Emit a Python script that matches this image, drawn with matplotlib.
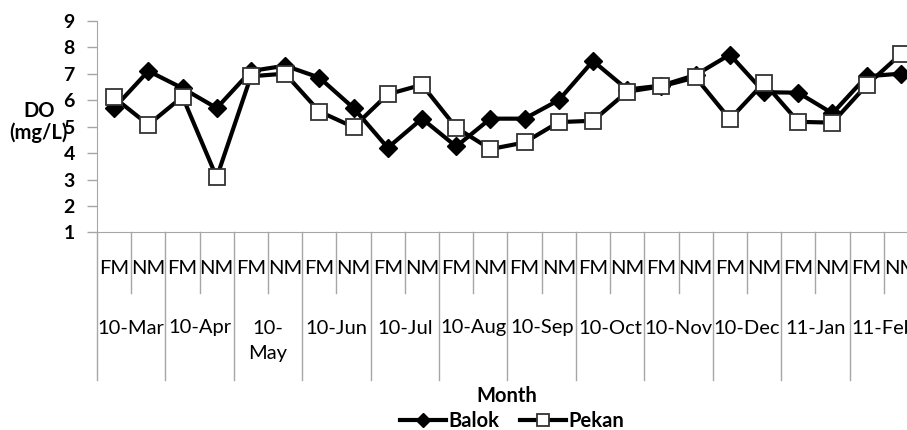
import matplotlib
matplotlib.use("Agg")
import matplotlib.pyplot as plt
from matplotlib.transforms import blended_transform_factory
from matplotlib.lines import Line2D

# ---- data ----
sub_labels = ["FM", "NM"] * 12
month_labels = ["10-Mar", "10-Apr", "10-\nMay", "10-Jun", "10-Jul", "10-Aug",
                "10-Sep", "10-Oct", "10-Nov", "10-Dec", "11-Jan", "11-Feb"]
balok = [5.7, 7.1, 6.45, 5.7, 7.1, 7.3, 6.85, 5.7, 4.2, 5.3, 4.25, 5.3,
         5.3, 6.0, 7.48, 6.4, 6.55, 6.95, 7.72, 6.3, 6.28, 5.5, 6.9, 7.0]
pekan = [6.1, 5.07, 6.13, 3.08, 6.9, 7.0, 5.57, 4.98, 6.22, 6.58, 4.96, 4.15,
         4.4, 5.17, 5.22, 6.32, 6.52, 6.86, 5.28, 6.66, 5.18, 5.15, 6.57, 7.74]
y_ticks = [1, 2, 3, 4, 5, 6, 7, 8, 9]

FONT = "Lato"
plt.rcParams["font.family"] = [FONT, "DejaVu Sans"]

W, H = 907, 430
fig = plt.figure(figsize=(W / 100, H / 100), dpi=100)
left_px, right_px, top_px, bot_px = 97, 918, 20.7, 232.5
ax = fig.add_axes([left_px / W, 1 - bot_px / H, (right_px - left_px) / W, (bot_px - top_px) / H])

x = list(range(len(sub_labels)))
ax.plot(x, balok, color="black", lw=3, marker="D", ms=9.5, mfc="black", mec="black",
        label="Balok", zorder=3, clip_on=False)
ax.plot(x, pekan, color="black", lw=3, marker="s", ms=11, mfc="white", mec="#333333",
        mew=1.3, label="Pekan", zorder=4, clip_on=False)

ax.set_xlim(-0.5, len(sub_labels) - 0.5)
ax.set_ylim(1, 9)
ax.set_yticks(y_ticks)
ax.set_xticks([])
for s in ["top", "right"]:
    ax.spines[s].set_visible(False)
gray = "#A6A6A6"
ax.spines["left"].set_color(gray)
ax.spines["bottom"].set_color(gray)
ax.tick_params(axis="y", colors=gray, length=7, width=1, pad=9)
for t in ax.get_yticklabels():
    t.set_color("black")
    t.set_fontweight("bold")
    t.set_fontsize(14)

tr = blended_transform_factory(ax.transData, fig.transFigure)
def fy(px):
    return 1 - px / H

# short dividers between FM and NM
for m in range(len(month_labels)):
    xb = 2 * m + 0.5
    fig.add_artist(Line2D([xb, xb], [fy(bot_px), fy(293)], transform=tr, color=gray, lw=1))
# long month dividers
for m in range(len(month_labels) + 1):
    xb = 2 * m - 0.5
    fig.add_artist(Line2D([xb, xb], [fy(bot_px), fy(380)], transform=tr, color=gray, lw=1))

FS = 14.5
for i, lab in enumerate(sub_labels):
    fig.text(i, fy(268), lab, transform=tr, ha="center", va="center", fontsize=FS)
for m, lab in enumerate(month_labels):
    for k, line in enumerate(lab.split("\n")):
        fig.text(2 * m + 0.5, fy(328 + 26 * k), line, transform=tr, ha="center",
                 va="center", fontsize=FS)

fig.text(39 / W, fy(111), "DO", ha="center", va="center",
         fontsize=FS, fontweight="bold")
fig.text(38 / W, fy(133), "(mg/L)", ha="center", va="center",
         fontsize=FS, fontweight="bold")
fig.text(507 / W, fy(396), "Month", ha="center", va="center", fontsize=FS, fontweight="bold")

leg = fig.legend(handles=ax.get_lines(), loc="center", bbox_to_anchor=(512 / W, fy(421)),
                 ncol=2, frameon=False, fontsize=FS, handlelength=2.3, handletextpad=0.12,
                 columnspacing=1.0, markerscale=0.75, borderpad=0)
for t in leg.get_texts():
    t.set_fontweight("bold")

fig.savefig("out.png", dpi=100)
